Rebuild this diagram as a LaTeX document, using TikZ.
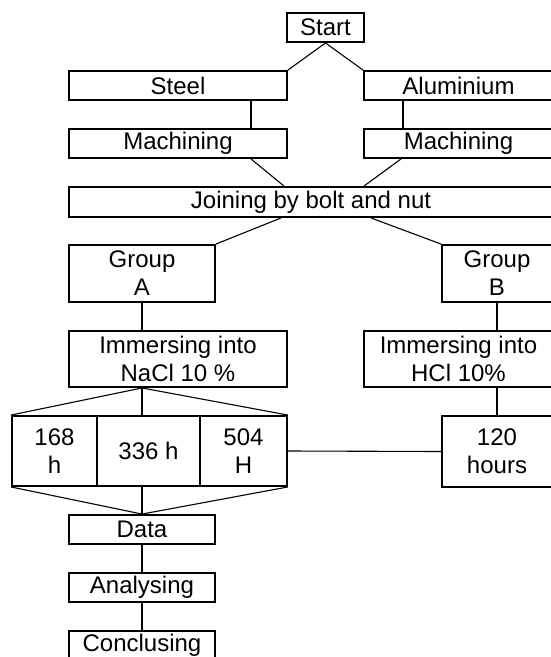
\documentclass[tikz,border=0pt]{standalone}
\usepackage{fontspec}
\setmainfont{Liberation Sans}
\usetikzlibrary{calc}
\tikzset{
  box/.style={draw, line width=1.9pt, inner sep=0pt, align=center,
    font=\fontsize{24}{28}\selectfont},
  conn/.style={line width=1.1pt},
}
\begin{document}
\begin{tikzpicture}[x=1pt,y=-1pt]
\useasboundingbox (0,0) rectangle (551,657);
\clip (0,0) rectangle (551,657);
% nodes
\node[box, minimum width=77pt, minimum height=29pt] (start) at (325.5,27.5) {Start};
\node[box, minimum width=218pt, minimum height=29pt] (steel) at (178,85.5) {Steel};
\node[box, minimum width=189pt, minimum height=29pt] (alu) at (458.5,85.5) {Aluminium};
\node[box, minimum width=218pt, minimum height=29pt] (mach1) at (178,143.5) {Machining};
\node[box, minimum width=189pt, minimum height=29pt] (mach2) at (458.5,143.5) {Machining};
\node[box, minimum width=484pt, minimum height=30pt] (join) at (311,202) {Joining by bolt and nut};
\node[box, minimum width=146pt, minimum height=57pt] (groupA) at (142,273.5) {Group\\A};
\node[box, minimum width=110pt, minimum height=57pt] (groupB) at (497,273.5) {Group\\B};
\node[box, minimum width=218pt, minimum height=56pt] (nacl) at (178,359) {Immersing into\\NaCl 10 \%};
\node[box, minimum width=189pt, minimum height=56pt] (hcl) at (458.5,359) {Immersing into\\HCl 10\%};
\node[box, minimum width=85pt, minimum height=70pt] (c1) at (54.5,451) {168\\h};
\node[box, minimum width=103pt, minimum height=70pt] (c2) at (148.5,451) {336 h};
\node[box, minimum width=87pt, minimum height=70pt] (c3) at (243.5,451) {504\\H};
\node[box, minimum width=110pt, minimum height=71pt] (hours) at (497,451.5) {120\\hours};
\node[box, minimum width=146pt, minimum height=29pt] (data) at (142,529.5) {Data};
\node[box, minimum width=146pt, minimum height=29pt] (anal) at (142,587.5) {Analysing};
\node[box, minimum width=146pt, minimum height=29pt] (concl) at (142,645.5) {Conclusing};
% connectors
\draw[conn] (start.south) -- (steel.north east);
\draw[conn] (start.south) -- (alu.north west);
\draw[line width=2pt] ([xshift=73pt]steel.south) -- ([xshift=73pt]mach1.north);
\draw[conn] ([xshift=-55.5pt]alu.south) -- ([xshift=-55.5pt]mach2.north);
\draw[conn] ([xshift=73pt]mach1.south) -- ([xshift=-27pt]join.north);
\draw[conn] ([xshift=-57.5pt]mach2.south) -- ([xshift=53pt]join.north);
\draw[conn] ([xshift=-30pt]join.south) -- (groupA.north east);
\draw[conn] ([xshift=60pt]join.south) -- (groupB.north west);
\draw[conn] (groupA.south) -- (groupA.south |- nacl.north);
\draw[conn] (groupB.south) -- (groupB.south |- hcl.north);
\coordinate (naclb) at ([xshift=-36pt]nacl.south);
\draw[conn] (naclb) -- (c1.north west);
\draw[conn] (naclb) -- (naclb |- c2.north);
\draw[conn] (naclb) -- (c3.north east);
\draw[conn] (c1.south west) -- (data.north);
\draw[conn] (naclb |- c2.south) -- (data.north);
\draw[conn] (c3.south east) -- (data.north);
\draw[conn] (data.south) -- (anal.north);
\draw[conn] (anal.south) -- (concl.north);
\draw[conn] (hours.north |- hcl.south) -- (hours.north);
\draw[conn] (c3.east) -- (hours.west);
\end{tikzpicture}
\end{document}
